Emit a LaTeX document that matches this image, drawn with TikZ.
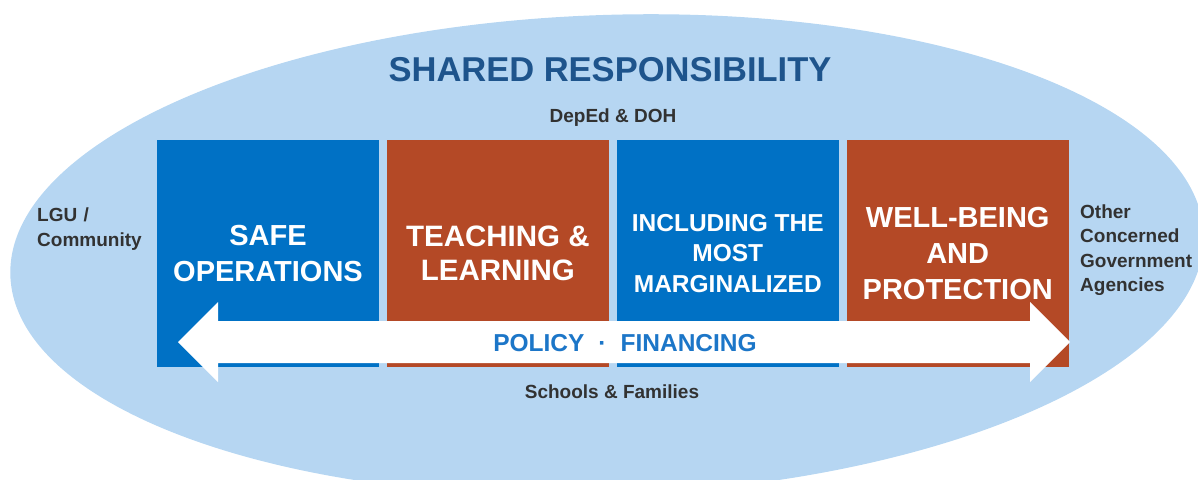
\documentclass[tikz,border=0pt]{standalone}
\usepackage{fontspec}
\setmainfont{Liberation Sans}
\usetikzlibrary{positioning}

\definecolor{ovalblue}{RGB}{182,214,242}
\definecolor{boxblue}{RGB}{0,113,197}
\definecolor{boxrust}{RGB}{180,73,38}
\definecolor{titleblue}{RGB}{30,84,140}
\definecolor{policyblue}{RGB}{28,118,200}
\definecolor{inktext}{RGB}{50,50,50}

\tikzset{
  pillar/.style={rectangle, minimum width=222pt, minimum height=227pt,
    inner sep=0pt, align=center, text=white,
    font=\bfseries\fontsize{29}{36}\selectfont},
  sidetext/.style={text=inktext, inner sep=0pt, align=left,
    font=\bfseries\fontsize{19}{24.5}\selectfont},
}

\begin{document}
\begin{tikzpicture}[x=1pt, y=-1pt]
\useasboundingbox (0,0) rectangle (1198,479);
\clip (0,0) rectangle (1198,479);
% the oval
\fill[ovalblue, rotate around={2:(607,255)}] (607,255) ellipse [x radius=597, y radius=240];

\node[text=titleblue, font=\bfseries\fontsize{34.5}{40}\selectfont] (title) at (610,70) {SHARED RESPONSIBILITY};
\node[sidetext] (deped) at (613,118) {DepEd \& DOH};

% the four pillars
\node[pillar, fill=boxblue] (safe) at (268,253.5) {SAFE\\OPERATIONS};
\node[pillar, fill=boxrust, right=7.5pt of safe, font=\bfseries\fontsize{29.5}{34}\selectfont] (teach) {TEACHING \&\\LEARNING};
\node[pillar, fill=boxblue, right=7.5pt of teach, font=\bfseries\fontsize{24.5}{30.5}\selectfont] (incl) {INCLUDING THE\\MOST\\MARGINALIZED};
\node[pillar, fill=boxrust, right=7.5pt of incl] (well) {WELL-BEING\\AND\\PROTECTION};

% policy arrow
\fill[white] (178,342) -- (218,302) -- (218,321) -- (1030,321) -- (1030,302)
  -- (1070,342) -- (1030,382) -- (1030,363) -- (218,363) -- (218,382) -- cycle;
\node[text=policyblue, font=\bfseries\fontsize{24.5}{30}\selectfont] (policy) at (625,343) {POLICY\hspace{14pt}·\hspace{14pt}FINANCING};

\node[sidetext] (schools) at (612,392) {Schools \& Families};
\node[sidetext, anchor=west, text width=120pt] (lgu) at (37,229) {LGU /\\Community};
\node[sidetext, anchor=west, text width=130pt] (others) at (1080,250) {Other\\Concerned\\Government\\Agencies};
\end{tikzpicture}
\end{document}
